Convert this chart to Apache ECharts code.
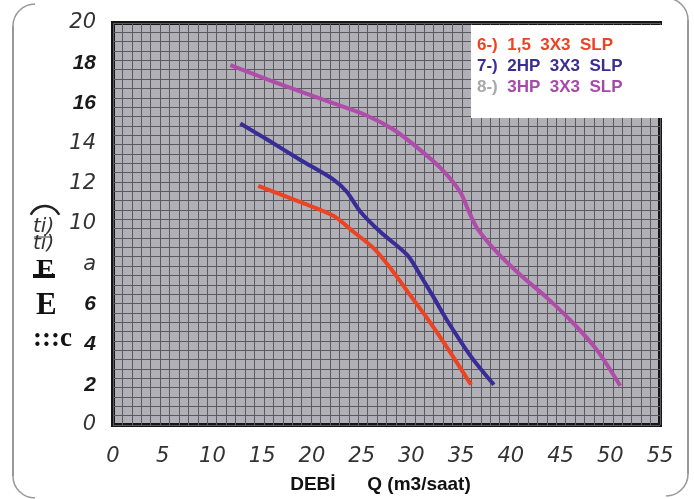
<!DOCTYPE html>
<html>
<head>
<meta charset="utf-8">
<script src="https://cdn.jsdelivr.net/npm/echarts@6/dist/echarts.min.js"></script>
<style>html,body{margin:0;padding:0;background:#fff;}#c{width:694px;height:499px;}</style>
</head>
<body>
<div id="c"></div>
<script>
// ---- data ----
var seriesNames = ['6-)  1,5  3X3  SLP', '7-)  2HP  3X3  SLP', '8-)  3HP  3X3  SLP'];
var pump6 = [[14.6,11.9],[18.8,11.1],[22.2,10.4],[24.2,9.6],[26.2,8.8],[27.9,7.8],[29.6,6.65],[31.6,5.3],[33.6,3.85],[36.0,2.0]];
var pump7 = [[12.8,15.0],[15.5,14.2],[18.8,13.2],[22.2,12.2],[23.5,11.6],[24.9,10.6],[26.9,9.6],[29.6,8.45],[30.9,7.45],[32.3,6.3],[33.6,5.2],[36.0,3.4],[38.3,2.0]];
var pump8 = [[11.8,17.9],[15.5,17.2],[18.8,16.6],[22.2,16.0],[25.5,15.4],[28.2,14.7],[30.6,13.8],[32.9,12.8],[34.9,11.6],[35.8,10.6],[36.6,9.8],[38.6,8.6],[41.0,7.45],[43.7,6.3],[46.4,5.0],[48.7,3.7],[51.0,1.95]];
var xTickLabels = ['0','5','10','15','20','25','30','35','40','45','50','55'];
var yTickLabels = ['0','2','4','6','a','10','12','14','16','18','20'];
var yTickStyles = ['l','b','b','b','l','l','l','l','b','b','l'];
var xAxisTitle = 'DEBİ      Q (m3/saat)';

var colors = ['#ee4322', '#382c96', '#b04ca9'];

var chart = echarts.init(document.getElementById('c'), null, {renderer: 'canvas'});
var lightFont = {fontFamily: 'DejaVu Sans', fontStyle: 'italic', fontWeight: 200, fontSize: 21, color: '#333'};
var boldFont = {fontFamily: 'Liberation Sans', fontStyle: 'italic', fontWeight: 'bold', fontSize: 21, color: '#1a1a1a'};

chart.setOption({
  animation: false,
  backgroundColor: '#ffffff',
  grid: {left: 113, top: 23, width: 547, height: 406, show: true, backgroundColor: '#b0b0b6', borderColor: '#161616', borderWidth: 4, z: 0},
  xAxis: [{
    type: 'value', min: 0, max: 55, interval: 5,
    axisLine: {show: false}, axisTick: {show: false}, splitLine: {show: false},
    axisLabel: {margin: 21, formatter: function (v) { return xTickLabels[Math.round(v / 5)]; },
      fontFamily: 'DejaVu Sans', fontStyle: 'italic', fontWeight: 200, fontSize: 21, color: '#333'},
    name: xAxisTitle, nameLocation: 'middle', nameGap: 50,
    nameTextStyle: {fontFamily: 'Liberation Sans', fontWeight: 'bold', fontSize: 19, color: '#111', padding: [0, 12, 0, 0]}
  }, {
    type: 'value', min: 0, max: 58, interval: 1, position: 'top',
    axisLine: {show: false}, axisTick: {show: false}, axisLabel: {show: false},
    splitLine: {show: true, lineStyle: {color: '#5a5a60', width: 1}}
  }],
  yAxis: [{
    type: 'value', min: 0, max: 20, interval: 2,
    axisLine: {show: false}, axisTick: {show: false}, splitLine: {show: false},
    axisLabel: {margin: 17, formatter: function (v) { var i = Math.round(v / 2); return '{' + yTickStyles[i] + '|' + yTickLabels[i] + '}'; },
      rich: {l: lightFont, b: boldFont}}
  }, {
    type: 'value', min: 0, max: 43, interval: 1, position: 'right',
    axisLine: {show: false}, axisTick: {show: false}, axisLabel: {show: false},
    splitLine: {show: true, lineStyle: {color: '#5a5a60', width: 1}}
  }],
  legend: {
    orient: 'vertical', left: 472, top: 31, itemGap: 2, itemWidth: 0, itemHeight: 0, icon: 'none', z: 30,
    selectedMode: false,
    data: [
      {name: seriesNames[0], textStyle: {color: colors[0]}},
      {name: seriesNames[1], textStyle: {color: '#3a2f90'}},
      {name: seriesNames[2]}
    ],
    formatter: function (n) {
      if (n === seriesNames[2]) { return '{g|8-)}  {m|3HP  3X3  SLP}'; }
      return n;
    },
    textStyle: {fontFamily: 'Liberation Sans', fontWeight: 'bold', fontSize: 17, lineHeight: 19, padding: [0, 0, 0, -5],
      rich: {
        g: {fontFamily: 'Liberation Sans', fontWeight: 'bold', fontSize: 17, lineHeight: 19, color: '#a8a8a8'},
        m: {fontFamily: 'Liberation Sans', fontWeight: 'bold', fontSize: 17, lineHeight: 19, color: '#a64aa8'}
      }}
  },
  series: [
    {name: seriesNames[0], type: 'line', data: pump6, smooth: 0.3, showSymbol: false, lineStyle: {color: colors[0], width: 4}, itemStyle: {color: colors[0]}, z: 5},
    {name: seriesNames[1], type: 'line', data: pump7, smooth: 0.3, showSymbol: false, lineStyle: {color: colors[1], width: 4}, itemStyle: {color: colors[1]}, z: 5},
    {name: seriesNames[2], type: 'line', data: pump8, smooth: 0.3, showSymbol: false, lineStyle: {color: colors[2], width: 4}, itemStyle: {color: colors[2]}, z: 5}
  ],
  graphic: [
    {type: 'rect', z: 20, shape: {x: 471, y: 25, width: 193, height: 93}, style: {fill: '#ffffff'}},
    {type: 'line', z: 21, shape: {x1: 13, y1: 26, x2: 13, y2: 476}, style: {stroke: '#777', lineWidth: 1.5}},
    {type: 'arc', z: 21, shape: {cx: 35, cy: 26, r: 22, startAngle: Math.PI, endAngle: Math.PI * 1.5}, style: {stroke: '#999', lineWidth: 1.5, fill: null}},
    {type: 'arc', z: 21, shape: {cx: 35, cy: 476, r: 22, startAngle: Math.PI * 0.5, endAngle: Math.PI}, style: {stroke: '#999', lineWidth: 1.5, fill: null}},
    {type: 'line', z: 21, shape: {x1: 688, y1: 20, x2: 688, y2: 474}, style: {stroke: '#777', lineWidth: 1.5}},
    {type: 'arc', z: 21, shape: {cx: 666, cy: 20, r: 22, startAngle: Math.PI * 1.5, endAngle: Math.PI * 2}, style: {stroke: '#999', lineWidth: 1.5, fill: null}},
    {type: 'arc', z: 21, shape: {cx: 666, cy: 474, r: 22, startAngle: 0, endAngle: Math.PI * 0.5}, style: {stroke: '#999', lineWidth: 1.5, fill: null}},
    {type: 'arc', z: 21, shape: {cx: 45, cy: 222, r: 16, startAngle: Math.PI * 1.15, endAngle: Math.PI * 1.85}, style: {stroke: '#222', lineWidth: 2.5, fill: null}},
    {type: 'text', z: 21, left: 33, top: 217, style: {text: 'ti)', fontFamily: 'DejaVu Sans', fontStyle: 'italic', fontWeight: 200, fontSize: 20, fill: '#333'}},
    {type: 'line', z: 21, shape: {x1: 34, y1: 237, x2: 52, y2: 237}, style: {stroke: '#333', lineWidth: 1}},
    {type: 'text', z: 21, left: 33, top: 234, style: {text: 'ti)', fontFamily: 'DejaVu Sans', fontStyle: 'italic', fontWeight: 200, fontSize: 20, fill: '#333'}},
    {type: 'text', z: 21, left: 36, top: 257, style: {text: 'E', fontFamily: 'Liberation Serif', fontWeight: 'bold', fontSize: 28, fill: '#111'}},
    {type: 'rect', z: 22, shape: {x: 33, y: 274, width: 22, height: 4}, style: {fill: '#111'}},
    {type: 'text', z: 21, left: 36, top: 290, style: {text: 'E', fontFamily: 'Liberation Serif', fontWeight: 'bold', fontSize: 31, fill: '#111'}},
    {type: 'text', z: 21, left: 33, top: 326, style: {text: ':::c', fontFamily: 'Liberation Serif', fontWeight: 'bold', fontSize: 27, fill: '#111'}}
  ]
});
</script>
</body>
</html>
